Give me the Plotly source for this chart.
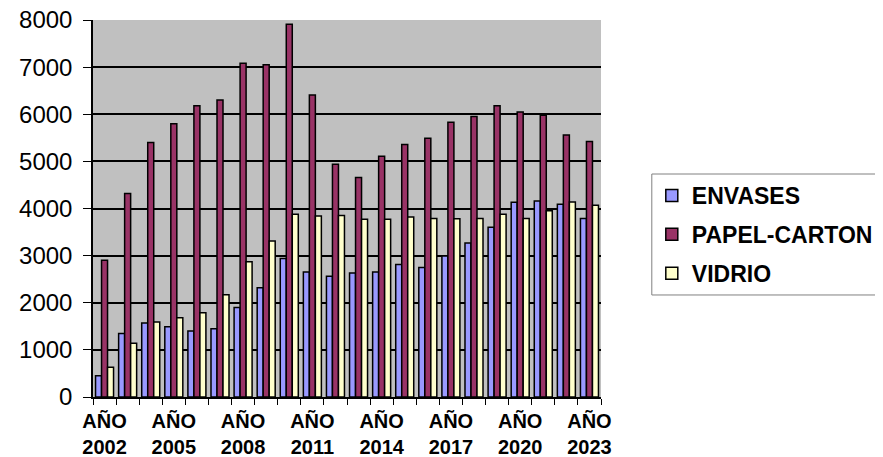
import plotly.graph_objects as go

years = list(range(2002, 2024))
envases = [450, 1350, 1570, 1490, 1400, 1450, 1900, 2320, 2940, 2650, 2560,
           2630, 2650, 2810, 2750, 2990, 3270, 3600, 4130, 4160, 4090, 3790]
papel_carton = [2900, 4320, 5400, 5800, 6180, 6300, 7080, 7050, 7910, 6410, 4940,
                4660, 5110, 5360, 5490, 5830, 5950, 6180, 6050, 5980, 5560, 5420]
vidrio = [630, 1140, 1590, 1680, 1790, 2170, 2870, 3310, 3880, 3840, 3850,
          3770, 3770, 3820, 3790, 3780, 3790, 3880, 3790, 3950, 4140, 4070]
tick_years = [2002, 2005, 2008, 2011, 2014, 2017, 2020, 2023]
tick_labels = ["AÑO<br>%d" % y for y in tick_years]

series = [("ENVASES", envases, "#9999FF"),
          ("PAPEL-CARTON", papel_carton, "#993366"),
          ("VIDRIO", vidrio, "#FFFFCC")]

fig = go.Figure()
for i, (name, vals, col) in enumerate(series):
    fig.add_trace(go.Bar(
        x=years, y=vals, name=name, legendgroup=name,
        marker=dict(color=col, line=dict(color="black", width=1.5)),
    ))

# page body has an 8px margin; figure is sized/offset to compensate
fig.update_layout(
    width=875, height=449,
    margin=dict(l=85, r=282, t=12, b=60, autoexpand=False),
    paper_bgcolor="white",
    plot_bgcolor="#C0C0C0",
    barmode="group", bargap=0.22, bargroupgap=0,
    font=dict(family="Liberation Sans, Arial", color="black"),
    legend=dict(
        x=1.1, y=0.5915, xanchor="left", yanchor="top",
        borderwidth=0, bgcolor="rgba(0,0,0,0)",
        font=dict(size=23, family="Liberation Sans, Arial", color="black", weight="bold"),
        traceorder="grouped", tracegroupgap=6, itemwidth=30,
    ),
    showlegend=True,
    shapes=[dict(type="rect", xref="paper", yref="paper",
                 x0=1.1, x1=1.56, y0=0.2706, y1=0.5915,
                 line=dict(color="#808080", width=1), fillcolor="white",
                 layer="below")],
)
fig.update_xaxes(
    range=[2001.5, 2023.5], automargin=False,
    tickmode="array", tickvals=tick_years, ticktext=tick_labels,
    tickfont=dict(size=20, weight="bold"), ticklabelstandoff=5,
    ticklabeloverflow="allow",
    ticks="", showline=True, linecolor="black", linewidth=1.5,
    showgrid=False, zeroline=False,
    minor=dict(ticks="outside", tick0=2001.5, dtick=1, ticklen=6, tickcolor="black", showgrid=False),
)
fig.update_yaxes(
    range=[0, 8000], dtick=1000, automargin=False,
    tickfont=dict(size=24), ticklabelstandoff=6,
    ticklabeloverflow="allow",
    ticks="outside", ticklen=8, tickcolor="black",
    showline=True, linecolor="black", linewidth=1.5, mirror=False,
    showgrid=True, gridcolor="black", gridwidth=1.5, zeroline=False,
)

fig.write_html("out.html")
